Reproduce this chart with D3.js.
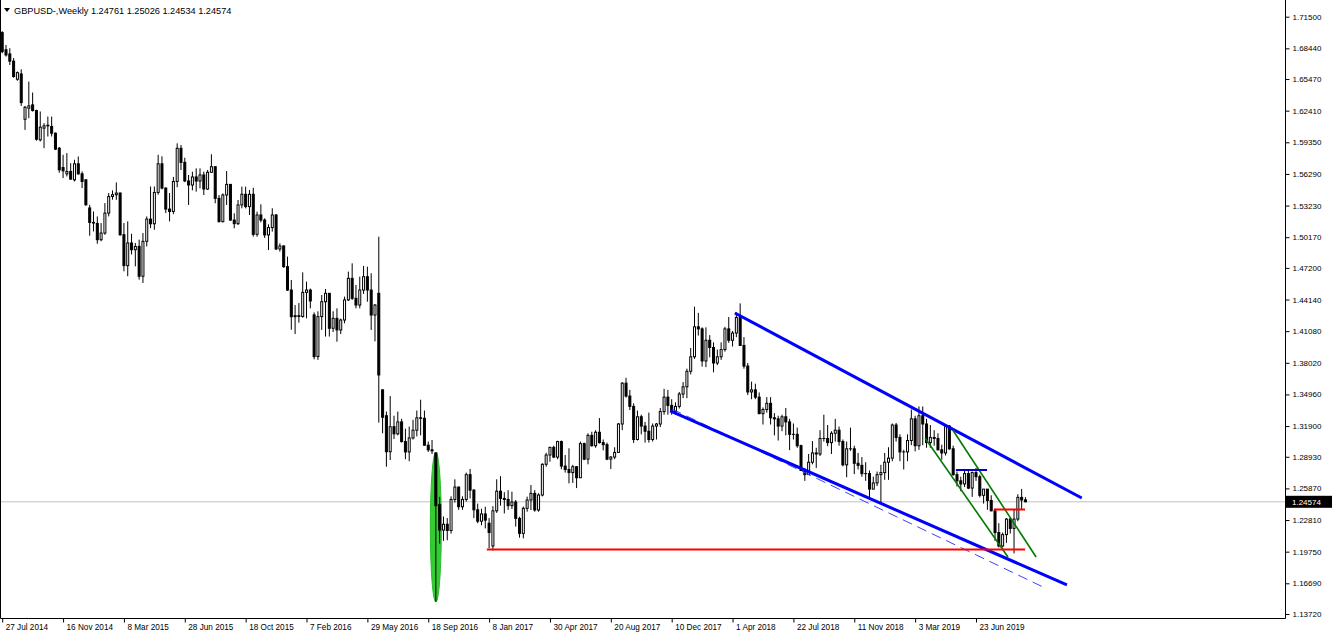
<!DOCTYPE html>
<html><head><meta charset="utf-8">
<script src="https://cdn.jsdelivr.net/npm/d3@7"></script>
<style>
body{margin:0;background:#fff;}
svg{display:block;}
text{font-family:"Liberation Sans",Arial,sans-serif;}
</style>
</head><body>
<svg id="chart" width="1332" height="637"></svg>
<script>
// ---------- DATA (weekly GBPUSD, [open, high, low, close]) ----------
const symbolTitle = "GBPUSD-,Weekly";
const lastQuote = [1.24761, 1.25026, 1.24534, 1.24574];
const currentPrice = 1.24574;

const ohlc2014 = [
[1.6996,1.7010,1.6796,1.6812],[1.6830,1.6876,1.6764,1.6780],[1.6790,1.6845,1.6683,1.6720],[1.6720,1.6750,1.6560,1.6571],
[1.6545,1.6620,1.6530,1.6609],[1.6596,1.6641,1.6287,1.6319],[1.6158,1.6287,1.6055,1.6274],[1.6265,1.6522,1.6168,1.6287],
[1.6297,1.6416,1.6233,1.6242],[1.6242,1.6250,1.5950,1.5965],[1.5959,1.6233,1.5943,1.6081],[1.6072,1.6120,1.5878,1.6094],
[1.6094,1.6184,1.5991,1.6100],[1.6088,1.6184,1.5991,1.6023],[1.6023,1.6030,1.5860,1.5869],[1.5878,1.5890,1.5640,1.5669],
[1.5691,1.5814,1.5589,1.5659],[1.5630,1.5830,1.5605,1.5653],[1.5653,1.5733,1.5572,1.5579],[1.5572,1.5766,1.5556,1.5727],
[1.5727,1.5798,1.5621,1.5630],[1.5630,1.5653,1.5492,1.5556],[1.5572,1.5580,1.5320,1.5331]
];
const ohlc2015 = [
[1.5300,1.5330,1.5031,1.5160],[1.5160,1.5266,1.5073,1.5154],[1.5150,1.5218,1.4954,1.4993],[1.4993,1.5154,1.4977,1.5057],
[1.5057,1.5347,1.5040,1.5250],[1.5250,1.5444,1.5218,1.5411],[1.5411,1.5470,1.5380,1.5428],[1.5428,1.5547,1.5379,1.5444],
[1.5444,1.5450,1.5030,1.5041],[1.5041,1.5154,1.4687,1.4742],[1.4742,1.5170,1.4639,1.4961],[1.4961,1.5050,1.4850,1.4896],
[1.4896,1.4961,1.4735,1.4928],[1.4928,1.4993,1.4606,1.4639],[1.4639,1.5057,1.4574,1.4977],[1.4977,1.5218,1.4928,1.5192],
[1.5192,1.5508,1.5105,1.5147],[1.5147,1.5508,1.5089,1.5450],[1.5450,1.5814,1.5428,1.5727],[1.5727,1.5800,1.5480,1.5492],
[1.5492,1.5500,1.5250,1.5289],[1.5289,1.5444,1.5170,1.5266],[1.5266,1.5600,1.5240,1.5556],[1.5556,1.5925,1.5500,1.5877],
[1.5877,1.5909,1.5667,1.5741],[1.5741,1.5786,1.5550,1.5561],[1.5561,1.5619,1.5329,1.5522],[1.5522,1.5650,1.5470,1.5600],
[1.5600,1.5683,1.5458,1.5560],[1.5560,1.5683,1.5490,1.5619],[1.5619,1.5651,1.5425,1.5483],[1.5483,1.5667,1.5474,1.5645],
[1.5645,1.5819,1.5640,1.5699],[1.5699,1.5700,1.5345,1.5393],[1.5393,1.5425,1.5161,1.5167],[1.5167,1.5441,1.5161,1.5425],
[1.5425,1.5657,1.5329,1.5528],[1.5528,1.5530,1.5174,1.5183],[1.5183,1.5248,1.5103,1.5148],[1.5148,1.5377,1.5135,1.5329],
[1.5329,1.5506,1.5296,1.5432],[1.5432,1.5506,1.5296,1.5313],[1.5313,1.5474,1.5232,1.5432],[1.5432,1.5496,1.5022,1.5045],
[1.5045,1.5264,1.5022,1.5232],[1.5232,1.5335,1.5161,1.5183],[1.5183,1.5200,1.5010,1.5039],[1.5039,1.5142,1.4893,1.5110],
[1.5110,1.5297,1.5071,1.5232],[1.5232,1.5240,1.4893,1.4903],[1.4903,1.4958,1.4877,1.4932],[1.4932,1.4940,1.4720,1.4732]
];
const ohlc2016 = [
[1.4732,1.4829,1.4497,1.4506],[1.4506,1.4603,1.4122,1.4248],[1.4248,1.4360,1.4080,1.4258],[1.4258,1.4380,1.4190,1.4250],
[1.4250,1.4677,1.4238,1.4483],[1.4483,1.4587,1.4232,1.4506],[1.4506,1.4520,1.4329,1.4400],[1.4265,1.4290,1.3836,1.3862],
[1.3862,1.4300,1.3830,1.4249],[1.4249,1.4458,1.4120,1.4393],[1.4393,1.4516,1.4056,1.4474],[1.4474,1.4475,1.4056,1.4136],
[1.4136,1.4300,1.4100,1.4232],[1.4232,1.4329,1.4006,1.4120],[1.4120,1.4230,1.4080,1.4216],[1.4216,1.4442,1.4184,1.4410],
[1.4410,1.4684,1.4400,1.4619],[1.4619,1.4764,1.4410,1.4426],[1.4426,1.4555,1.4329,1.4361],[1.4361,1.4635,1.4329,1.4506],
[1.4506,1.4739,1.4468,1.4635],[1.4635,1.4732,1.4393,1.4506],[1.4506,1.4668,1.4120,1.4264],[1.4264,1.4370,1.4010,1.4361],
[1.4474,1.5022,1.3223,1.3684],[1.3540,1.3545,1.3120,1.3275],[1.3290,1.3330,1.2797,1.2942],[1.2942,1.3480,1.2862,1.3184],
[1.3184,1.3290,1.3065,1.3115],[1.3115,1.3330,1.3100,1.3230],[1.3230,1.3260,1.3030,1.3040],[1.3040,1.3165,1.2870,1.2940],
[1.2940,1.3185,1.2850,1.3075],[1.3075,1.3250,1.3060,1.3150],[1.3150,1.3340,1.3090,1.3270],[1.3270,1.3445,1.3100,1.3265],
[1.3265,1.3340,1.3000,1.3005],[1.3005,1.3040,1.2940,1.2960],[1.2960,1.3055,1.2920,1.2950],[1.2930,1.2935,1.1491,1.2420],
[1.2430,1.2505,1.2052,1.2184],[1.2184,1.2315,1.2080,1.2240],[1.2240,1.2300,1.2085,1.2180],[1.2180,1.2510,1.2150,1.2480],
[1.2480,1.2675,1.2450,1.2600],[1.2600,1.2604,1.2380,1.2410],[1.2410,1.2510,1.2380,1.2480],[1.2480,1.2740,1.2460,1.2720],
[1.2720,1.2775,1.2490,1.2570],[1.2570,1.2580,1.2300,1.2380],[1.2380,1.2440,1.2250,1.2270],[1.2270,1.2390,1.2230,1.2340]
];
const ohlc2017 = [
[1.2340,1.2410,1.2200,1.2280],[1.2250,1.2300,1.2007,1.2160],[1.2030,1.2415,1.1986,1.2370],[1.2370,1.2675,1.2350,1.2560],
[1.2560,1.2705,1.2420,1.2490],[1.2490,1.2550,1.2345,1.2480],[1.2480,1.2570,1.2380,1.2420],[1.2420,1.2555,1.2388,1.2455],
[1.2455,1.2475,1.2217,1.2297],[1.2297,1.2313,1.2110,1.2152],[1.2152,1.2410,1.2104,1.2394],[1.2394,1.2507,1.2362,1.2475],
[1.2475,1.2620,1.2378,1.2539],[1.2539,1.2571,1.2362,1.2378],[1.2378,1.2540,1.2362,1.2523],[1.2523,1.2830,1.2510,1.2820],
[1.2820,1.2932,1.2797,1.2910],[1.2910,1.2990,1.2845,1.2984],[1.2984,1.3000,1.2880,1.2890],[1.2890,1.3048,1.2870,1.3040],
[1.3040,1.3050,1.2772,1.2803],[1.2803,1.2910,1.2740,1.2770],[1.2770,1.2975,1.2636,1.2740],[1.2740,1.2815,1.2640,1.2797],
[1.2797,1.2800,1.2590,1.2690],[1.2690,1.3040,1.2690,1.3020],[1.3020,1.3030,1.2860,1.2870],[1.2870,1.3120,1.2820,1.3100],
[1.3100,1.3135,1.2990,1.3000],[1.3000,1.3150,1.2980,1.3130],[1.3130,1.3267,1.3020,1.3030],[1.3030,1.3060,1.2955,1.3010],
[1.3010,1.3030,1.2860,1.2870],[1.2870,1.2900,1.2775,1.2890],[1.2890,1.2985,1.2870,1.2935],[1.2935,1.3220,1.2930,1.3210],
[1.3210,1.3615,1.3150,1.3605],[1.3605,1.3657,1.3465,1.3480],[1.3480,1.3540,1.3345,1.3380],[1.3380,1.3410,1.3027,1.3060],
[1.3060,1.3340,1.3050,1.3280],[1.3280,1.3300,1.3110,1.3190],[1.3190,1.3230,1.3030,1.3140],[1.3140,1.3320,1.3030,1.3060],
[1.3060,1.3215,1.3040,1.3190],[1.3190,1.3220,1.3060,1.3210],[1.3210,1.3365,1.3180,1.3330],[1.3330,1.3550,1.3300,1.3470],
[1.3470,1.3540,1.3300,1.3390],[1.3390,1.3450,1.3300,1.3330],[1.3330,1.3420,1.3300,1.3380],[1.3380,1.3520,1.3360,1.3500],
[1.3500,1.3615,1.3460,1.3570]
];
const ohlc2018 = [
[1.3570,1.3745,1.3460,1.3720],[1.3720,1.3945,1.3690,1.3860],[1.3860,1.4345,1.3840,1.4150],[1.4150,1.4285,1.4065,1.4130],
[1.4130,1.4145,1.3765,1.3820],[1.3820,1.4145,1.3760,1.4020],[1.4020,1.4070,1.3855,1.3950],[1.3950,1.4000,1.3710,1.3800],
[1.3800,1.3930,1.3780,1.3860],[1.3860,1.4000,1.3830,1.3930],[1.3930,1.4150,1.3910,1.4130],[1.4130,1.4245,1.3995,1.4020],
[1.4020,1.4110,1.3960,1.4090],[1.4090,1.4290,1.4050,1.4240],[1.4240,1.4377,1.3965,1.3970],[1.3970,1.4050,1.3745,1.3770],
[1.3770,1.3800,1.3490,1.3520],[1.3520,1.3620,1.3450,1.3540],[1.3540,1.3600,1.3450,1.3470],[1.3470,1.3515,1.3305,1.3310],
[1.3310,1.3370,1.3205,1.3350],[1.3350,1.3470,1.3320,1.3410],[1.3410,1.3470,1.3205,1.3270],[1.3270,1.3315,1.3100,1.3260],
[1.3260,1.3290,1.3050,1.3190],[1.3190,1.3300,1.3140,1.3280],[1.3280,1.3365,1.3100,1.3230],[1.3230,1.3260,1.2957,1.3110],
[1.3110,1.3215,1.3060,1.3110],[1.3110,1.3175,1.2980,1.3000],[1.3000,1.3010,1.2755,1.2760],[1.2760,1.2780,1.2660,1.2720],
[1.2720,1.2920,1.2720,1.2840],[1.2840,1.3045,1.2820,1.2930],[1.2930,1.2980,1.2785,1.2920],[1.2920,1.3150,1.2900,1.3070],
[1.3070,1.3300,1.3040,1.3070],[1.3070,1.3200,1.2995,1.3030],[1.3030,1.3140,1.2920,1.3120],[1.3120,1.3260,1.3040,1.3150],
[1.3150,1.3185,1.3000,1.3040],[1.3040,1.3060,1.2800,1.2815],[1.2815,1.3040,1.2695,1.2970],[1.2970,1.3175,1.2950,1.2970],
[1.2970,1.3000,1.2725,1.2830],[1.2830,1.2930,1.2770,1.2810],[1.2810,1.2890,1.2700,1.2730],[1.2730,1.2840,1.2660,1.2730],
[1.2730,1.2760,1.2477,1.2580],[1.2580,1.2700,1.2580,1.2640],[1.2640,1.2750,1.2610,1.2720],[1.2720,1.2815,1.2440,1.2740]
];
const ohlc2019 = [
[1.2740,1.2930,1.2670,1.2840],[1.2840,1.2985,1.2670,1.2880],[1.2880,1.3215,1.2850,1.3200],[1.3200,1.3220,1.3040,1.3080],
[1.3080,1.3110,1.2850,1.2940],[1.2940,1.2960,1.2770,1.2940],[1.2940,1.3110,1.2850,1.3050],[1.3050,1.3350,1.3005,1.3260],
[1.3260,1.3290,1.2945,1.3000],[1.3000,1.3380,1.2960,1.3290],[1.3290,1.3380,1.3005,1.3210],[1.3210,1.3260,1.2980,1.3030],
[1.3030,1.3200,1.2980,1.3080],[1.3080,1.3150,1.3000,1.3070],[1.3070,1.3120,1.2955,1.2960],[1.2960,1.3010,1.2865,1.2930],
[1.2930,1.3200,1.2905,1.3190],[1.3190,1.3200,1.2960,1.2970],[1.2970,1.3000,1.2710,1.2720],[1.2720,1.2750,1.2605,1.2660],
[1.2660,1.2700,1.2560,1.2630],[1.2630,1.2765,1.2600,1.2730],[1.2730,1.2760,1.2580,1.2590],[1.2590,1.2750,1.2505,1.2740],
[1.2740,1.2785,1.2660,1.2700],[1.2700,1.2720,1.2500,1.2520],[1.2520,1.2580,1.2440,1.2580],[1.2580,1.2580,1.2380,1.2470],
[1.2470,1.2520,1.2365,1.2370],[1.2370,1.2390,1.2080,1.2160],[1.2160,1.2250,1.2015,1.2030],[1.2030,1.2160,1.2015,1.2140],
[1.2140,1.2300,1.2060,1.2290],[1.2290,1.2310,1.2150,1.2200],[1.2200,1.2385,1.1958,1.2290],[1.2290,1.2530,1.2270,1.2500],
[1.2500,1.2582,1.2385,1.2475],[1.24761,1.25026,1.24534,1.24574]
];

// price-axis labels and time-axis labels (bar index of each label, label text)
const priceTicks = [1.71500,1.68440,1.65470,1.62410,1.59350,1.56290,1.53230,1.50170,1.47200,1.44140,
                    1.41080,1.38020,1.34960,1.31900,1.28930,1.25870,1.22810,1.19750,1.16690,1.13720];
const timeTickBars = [0,16,32,48,64,80,96,112,128,144,160,176,192,208,224,240,256];
const timeTickLabels = ["27 Jul 2014","16 Nov 2014","8 Mar 2015","28 Jun 2015","18 Oct 2015","7 Feb 2016",
  "29 May 2016","18 Sep 2016","8 Jan 2017","30 Apr 2017","20 Aug 2017","10 Dec 2017","1 Apr 2018",
  "22 Jul 2018","11 Nov 2018","3 Mar 2019","23 Jun 2019"];

// drawn objects: [barIndex, price] endpoints
const channelUpper = [[192.6,1.4284],[283.8,1.2494]];
const channelLower = [[175.6,1.3336],[279.9,1.1653]];
const channelDashed = [[176.1,1.3355],[273.8,1.1630]];
const greenLineA = [[242.6,1.3075],[264.4,1.1924]];
const greenLineB = [[249.9,1.3152],[271.8,1.1924]];
const blueLevel = [[250.7,1.2765],[258.9,1.2765]];
const redLevelLong = [[127.4,1.1996],[268.9,1.1996]];
const redLevelShort = [[260.7,1.2383],[268.9,1.2383]];
const crashEllipse = {bar:114, price:1.2213, barRadius:1.45, priceRadius:0.0726};

// ---------- BUILD ----------
const candles = [...ohlc2014, ...ohlc2015, ...ohlc2016, ...ohlc2017, ...ohlc2018, ...ohlc2019]
  .map((d,i)=>({i, o:d[0], h:d[1], l:d[2], c:d[3]}));

const svg = d3.select("#chart");
const plotRight = 1285, plotBottom = 618;

const x = d3.scaleLinear().domain([0, 256]).range([2.2, 976]);
const y = d3.scaleLinear().domain([1.13720, 1.71500]).range([614, 16.7]);

const plot = svg.append("g");
svg.append("defs").append("clipPath").attr("id","clip")
  .append("rect").attr("x",1).attr("y",1).attr("width",plotRight-1).attr("height",plotBottom-1);
plot.attr("clip-path","url(#clip)");

// current price line
plot.append("line").attr("x1",0).attr("x2",plotRight).attr("y1",y(currentPrice)).attr("y2",y(currentPrice))
  .attr("stroke","#c0c0c0").attr("stroke-width",1);

// ellipse (behind candles)
plot.append("ellipse")
  .attr("cx", x(crashEllipse.bar)).attr("cy", y(crashEllipse.price))
  .attr("rx", x(crashEllipse.barRadius) - x(0))
  .attr("ry", y(crashEllipse.price - crashEllipse.priceRadius) - y(crashEllipse.price))
  .attr("fill","#33cc33").attr("stroke","#2dbb2d").attr("stroke-width",1);

// candles
const cg = plot.append("g");
cg.selectAll("line.wick").data(candles).join("line").attr("class","wick")
  .attr("x1",d=>x(d.i)).attr("x2",d=>x(d.i))
  .attr("y1",d=>y(d.h)).attr("y2",d=>y(d.l))
  .attr("stroke","#000").attr("stroke-width",1);
cg.selectAll("rect.body").data(candles).join("rect").attr("class","body")
  .attr("x",d=>x(d.i)-1).attr("width",2)
  .attr("y",d=>y(Math.max(d.o,d.c)))
  .attr("height",d=>Math.max(0.01, y(Math.min(d.o,d.c)) - y(Math.max(d.o,d.c))))
  .attr("fill",d=>d.c>=d.o ? "#fff" : "#000")
  .attr("stroke","#000").attr("stroke-width",1);

// objects
const line = d3.line().x(d=>x(d[0])).y(d=>y(d[1]));
function drawLine(pts, color, width, dash){
  const p = plot.append("path").attr("d", line(pts)).attr("fill","none")
    .attr("stroke",color).attr("stroke-width",width);
  if (dash) p.attr("stroke-dasharray", dash);
}
drawLine(channelDashed, "#4040ff", 1, "10,6");
drawLine(channelUpper, "#0000ff", 3);
drawLine(channelLower, "#0000ff", 3);
drawLine(greenLineA, "#007a00", 1.6);
drawLine(greenLineB, "#007a00", 1.6);
drawLine(blueLevel, "#0000cc", 2);
drawLine(redLevelLong, "#ff0000", 2);
drawLine(redLevelShort, "#ff0000", 2);

// frame
svg.append("path").attr("d",`M0.5,0 V${plotBottom+0.5} H${plotRight+0.5} V0`)
  .attr("fill","none").attr("stroke","#000").attr("stroke-width",1);

// price axis
const yAxis = d3.axisRight(y).tickValues(priceTicks).tickFormat(d3.format(".5f")).tickSize(4).tickSizeOuter(0);
const ya = svg.append("g").attr("transform",`translate(${plotRight+0.5},0)`).call(yAxis);
ya.select(".domain").remove();
ya.selectAll("text").attr("x",7).attr("font-size","8px").attr("font-family","Liberation Sans, Arial, sans-serif").attr("fill","#000");
ya.selectAll("line").attr("stroke","#000");

// time axis
const xAxis = d3.axisBottom(x).tickValues(timeTickBars).tickFormat((d,k)=>timeTickLabels[k]).tickSize(4).tickSizeOuter(0);
const xa = svg.append("g").attr("transform",`translate(0,${plotBottom+0.5})`).call(xAxis);
xa.select(".domain").remove();
xa.selectAll("text").attr("text-anchor","start").attr("x",3).attr("y",6).attr("dy","0.71em")
  .attr("font-size","8.2px").attr("font-family","Liberation Sans, Arial, sans-serif").attr("fill","#000");
xa.selectAll("line").attr("stroke","#000");

// current price label
const cy = y(currentPrice);
svg.append("rect").attr("x",plotRight+1).attr("y",cy-6).attr("width",46).attr("height",12).attr("fill","#000");
svg.append("text").attr("x",plotRight+7).attr("y",cy).attr("dy","0.35em").attr("font-size","8px")
  .attr("fill","#fff").text(d3.format(".5f")(currentPrice));

// header
svg.append("path").attr("d","M4,8 L10,8 L7,12 Z").attr("fill","#000");
svg.append("text").attr("x",14).attr("y",10.5).attr("dy","0.35em").attr("font-size","9.2px").attr("fill","#000")
  .text(symbolTitle + "  " + lastQuote.map(d3.format(".5f")).join(" "));
</script>
</body></html>
